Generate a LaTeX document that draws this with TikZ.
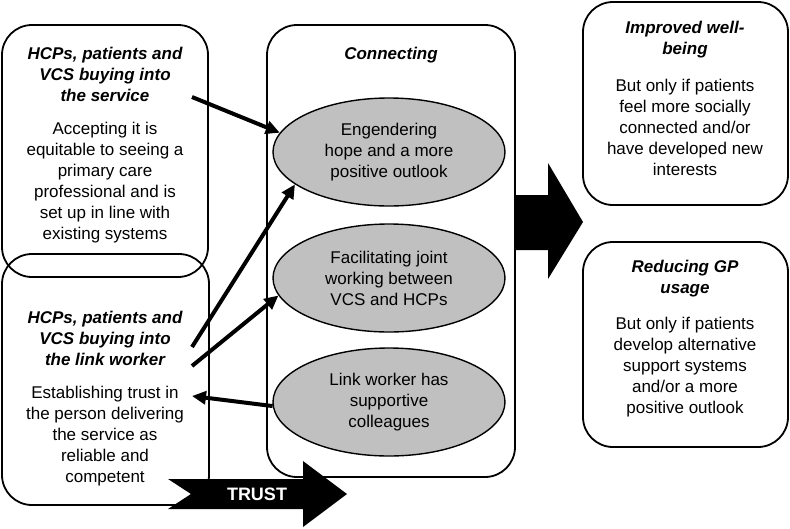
\documentclass[tikz,border=0pt]{standalone}
\usepackage{fontspec}
\setmainfont{Liberation Sans}
\usetikzlibrary{arrows.meta, positioning, shapes.geometric}

\definecolor{ovalgray}{RGB}{192,192,192}

\begin{document}
\begin{tikzpicture}[
    x=1pt, y=-1pt,
    every node/.style={
            align=center,
            inner sep=0pt,
            font=\fontsize{17}{21}\selectfont
        },
    arrow/.style={line width=4pt, -{Triangle[length=14pt, width=13pt]}},
    theme_box/.style={
            draw,
            line width=1.8pt,
            rounded corners=30pt
        },
    theme_title/.style={font=\fontsize{17}{21}\selectfont\bfseries\itshape},
    oval_block/.style={
            ellipse,
            draw,
            line width=1.4pt,
            fill=ovalgray,
            minimum width=232pt,
            minimum height=108pt
        },
    big_arrow/.style={fill=black}
    ]

    \useasboundingbox (0,0) rectangle (790,528);

    % --- Buying into the service ---
    \node[theme_box, minimum width=206pt, minimum height=252pt] (service_box) at (105,151) {};
    \node[theme_title] (service_title) at (105,74) {HCPs, patients and\\VCS buying into\\the service};
    \node (service_text) at (105,182.5) {Accepting it is\\equitable to seeing a\\primary care\\professional and is\\set up in line with\\existing systems};

    % --- Buying into the link worker ---
    \node[theme_box, minimum width=207pt, minimum height=251pt] (worker_box) at (105.5,379.5) {};
    \node[theme_title] (worker_title) at (105,338) {HCPs, patients and\\VCS buying into\\the link worker};
    \node (worker_text) at (105,436) {Establishing trust in\\the person delivering\\the service as\\reliable and\\competent};

    % --- Connecting ---
    \node[theme_box, minimum width=248pt, minimum height=452pt] (connect_box) at (391,251) {};
    \node[theme_title] (connect_title) at (391,55) {Connecting};
    \node[oval_block] (hope) at (389,152) {Engendering\\hope and a more\\positive outlook};
    \node[oval_block] (joint) at (389,278) {Facilitating joint\\working between\\VCS and HCPs};
    \node[oval_block] (colleagues) at (389,402) {Link worker has\\supportive\\colleagues};

    % --- Outcomes ---
    \node[theme_box, minimum width=205pt, minimum height=203pt] (wellbeing_box) at (685.5,103.5) {};
    \node[theme_title] (wellbeing_title) at (685,40) {Improved well-\\being};
    \node (wellbeing_text) at (685,127.5) {But only if patients\\feel more socially\\connected and/or\\have developed new\\interests};

    \node[theme_box, minimum width=205pt, minimum height=205pt] (gp_box) at (685.5,344.5) {};
    \node[theme_title] (gp_title) at (685,279) {Reducing GP\\usage};
    \node (gp_text) at (685,367) {But only if patients\\develop alternative\\support systems\\and/or a more\\positive outlook};

    % --- Arrows ---
    \coordinate (service_out) at (192,97);
    \coordinate (worker_out_a) at (192,347);
    \coordinate (worker_out_b) at (192,366);
    \coordinate (worker_in) at (192,396);
    \draw[arrow] (service_out) -- (hope.170);
    \draw[arrow] (worker_out_a) -- (hope.199);
    \draw[arrow] (worker_out_b) -- (joint.189);
    \draw[arrow] (colleagues.182) -- (worker_in);

    % --- Block arrows ---
    \fill[big_arrow] (515,195) -- (548,195) -- (548,163) -- (583,222) -- (548,279) -- (548,250) -- (515,250) -- cycle;
    \fill[big_arrow] (168,479) -- (303,479) -- (303,461) -- (347,494) -- (303,527) -- (303,509) -- (168,509) -- (191,494) -- cycle;
    \node[font=\fontsize{18}{21}\selectfont\bfseries, text=white] (trust) at (257,494) {TRUST};

\end{tikzpicture}
\end{document}
